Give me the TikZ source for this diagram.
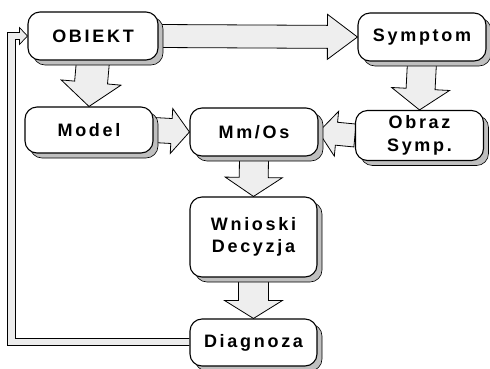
\documentclass[tikz,border=0pt]{standalone}
\usepackage{fontspec}
\setmainfont{Liberation Sans}
\usetikzlibrary{calc,shadows,backgrounds}
\newcommand\boxfont{\fontsize{18pt}{22.5pt}\selectfont\bfseries\addfontfeature{LetterSpace=15}}
\tikzset{
  blk/.style={draw=black, line width=1.1pt, fill=white, rounded corners=12pt,
    minimum width=128pt, minimum height=48pt, align=center, inner sep=0pt,
    font=\boxfont,
    general shadow={shadow xshift=5pt, shadow yshift=-5pt, fill=gray!50, draw=black, line width=0.6pt}},
  fatarr/.style={draw=black, line width=0.8pt, fill=gray!13, line join=miter},
  fback/.style={draw=black, line width=0.7pt, fill=gray!15, line join=miter}
}
\newcommand\fatarrow[5]{%
  \coordinate (fatH) at ($(#2)!#5!(#1)$);
  \draw[fatarr] ($(#1)!#3!90:(#2)$) -- ($(fatH)!#3!90:(#2)$) -- ($(fatH)!#4!90:(#2)$)
    -- (#2) -- ($(fatH)!#4!-90:(#2)$) -- ($(fatH)!#3!-90:(#2)$) -- ($(#1)!#3!-90:(#2)$) -- cycle;
}
\begin{document}
\begin{tikzpicture}[x=1pt,y=-1pt]
\useasboundingbox (0,0) rectangle (490,368);
% nodes
\node[blk, minimum width=130pt] (obiekt) at (93,36) {OBIEKT};
\node[blk] (symptom) at (422,37) {Symptom};
\node[blk, minimum height=46pt] (model) at (89,130) {Model};
\node[blk] (mm) at (254,132) {Mm/Os};
\node[blk, minimum height=50pt] (obraz) at (419.5,135.5) {Obraz\\Symp.};
\node[blk, minimum width=127pt, minimum height=80pt] (wn) at (253.5,237) {Wnioski\\Decyzja};
\node[blk, minimum width=127pt, minimum height=47pt] (diag) at (253.5,342.5) {Diagnoza};
\coordinate (outerx) at (7.5,0);
\coordinate (innerx) at (15.5,0);
\begin{pgfonlayer}{background}
% fat arrows
\fatarrow{obiekt.east}{symptom.west}{11.5pt}{22.5pt}{30pt}
\fatarrow{obiekt.south}{model.north}{16.5pt}{30pt}{24pt}
\fatarrow{symptom.south}{obraz.north}{14.5pt}{29pt}{21pt}
\fatarrow{model.east}{mm.west}{12.5pt}{22.5pt}{18pt}
\fatarrow{obraz.west}{mm.east}{11.5pt}{22.5pt}{18pt}
\fatarrow{mm.south}{wn.north}{14.5pt}{28.5pt}{19pt}
\fatarrow{wn.south}{diag.north}{15pt}{29pt}{18pt}
% feedback path Diagnoza -> OBIEKT
\draw[fback] ($(diag.west)+(0,3)$) -- ($(outerx |- diag.west)+(0,3)$)
  -- ($(outerx |- obiekt.west)+(0,-3.5)$) -- ($(obiekt.west)+(-8,-3.5)$)
  -- ($(obiekt.west)+(-8,-8.5)$) -- (obiekt.west) -- ($(obiekt.west)+(-8,8.5)$)
  -- ($(obiekt.west)+(-8,3.5)$) -- ($(innerx |- obiekt.west)+(0,3.5)$)
  -- ($(innerx |- diag.west)+(0,-4)$) -- ($(diag.west)+(0,-4)$);
\end{pgfonlayer}
\end{tikzpicture}
\end{document}
